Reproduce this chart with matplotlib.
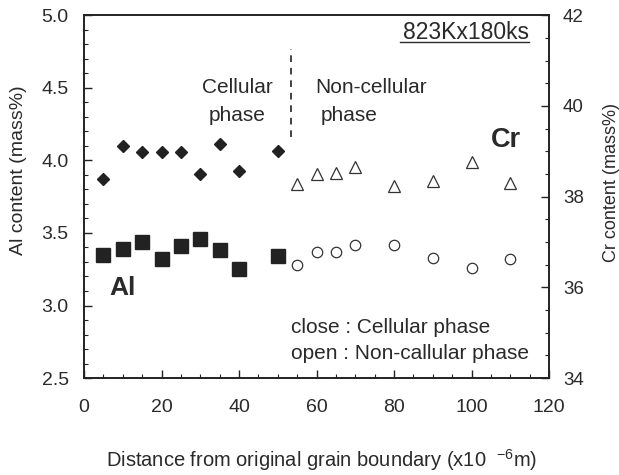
import matplotlib
matplotlib.use("Agg")
import matplotlib.pyplot as plt
from matplotlib.ticker import MultipleLocator

plt.rcParams['font.family'] = ['Liberation Sans', 'DejaVu Sans']
plt.rcParams['mathtext.fontset'] = 'custom'
plt.rcParams['mathtext.rm'] = 'Liberation Sans'
plt.rcParams['mathtext.it'] = 'Liberation Sans'

TXT = '#2a2a2a'

# Distance from original grain boundary (x10^-6 m)
x_cell = [5, 10, 15, 20, 25, 30, 35, 40, 50]
x_noncell = [55, 60, 65, 70, 80, 90, 100, 110]

# Al content (mass%)
al_cell = [3.35, 3.39, 3.44, 3.32, 3.41, 3.46, 3.38, 3.25, 3.34]
al_noncell = [3.28, 3.37, 3.37, 3.42, 3.42, 3.33, 3.26, 3.32]

# Cr content (mass%)
cr_cell = [38.39, 39.11, 38.98, 38.98, 38.98, 38.50, 39.17, 38.57, 39.01]
cr_noncell = [38.27, 38.50, 38.53, 38.66, 38.23, 38.34, 38.76, 38.31]

# cellular / non-cellular boundary marker
boundary_x = 53.3
boundary_span = (4.16, 4.77)

fig = plt.figure(figsize=(6.19, 4.75), dpi=100)
ax = fig.add_axes([0.1357, 0.204, 0.887 - 0.1357, 0.968 - 0.204])
ax2 = ax.twinx()

ax.plot(x_cell, al_cell, linestyle='none', marker='s', ms=9.5,
        color='#222222', mec='#222222', zorder=3)
ax.plot(x_noncell, al_noncell, linestyle='none', marker='o', ms=7.5,
        mfc='white', mec='#333333', mew=0.9, zorder=3)
ax2.plot(x_cell, cr_cell, linestyle='none', marker='D', ms=6.0,
         color='#222222', mec='#222222', zorder=3)
ax2.plot(x_noncell, cr_noncell, linestyle='none', marker='^', ms=8.0,
         mfc='white', mec='#333333', mew=0.9, zorder=3)

ax.plot([boundary_x, boundary_x], boundary_span, color='#222222',
        lw=1.2, linestyle=(0, (4, 3.5)))

ax.set_xlim(0, 120)
ax.set_ylim(2.5, 5.0)
ax2.set_ylim(34, 42)

ax.xaxis.set_major_locator(MultipleLocator(20))
ax.xaxis.set_minor_locator(MultipleLocator(5))
ax.yaxis.set_major_locator(MultipleLocator(0.5))
ax.yaxis.set_minor_locator(MultipleLocator(0.1))
ax2.yaxis.set_major_locator(MultipleLocator(2))
ax2.yaxis.set_minor_locator(MultipleLocator(0.5))
ax.yaxis.set_major_formatter(plt.FuncFormatter(lambda v, p: f"{v:.1f}"))

for a in (ax, ax2):
    for s in a.spines.values():
        s.set_linewidth(1.2)
        s.set_color('#222222')

ax.tick_params(axis='x', which='major', direction='in', length=6, width=1.0,
               labelsize=14, colors='#222222', labelcolor=TXT, top=False,
               pad=15)
ax.tick_params(axis='y', which='major', direction='in', length=6, width=1.0,
               labelsize=14, colors='#222222', labelcolor=TXT, right=False,
               pad=11)
ax.tick_params(axis='both', which='minor', direction='in', length=3, width=0.8,
               colors='#222222', top=False, right=False)
ax2.tick_params(axis='y', which='major', direction='in', length=6, width=1.0,
                labelsize=13.5, colors='#222222', labelcolor=TXT, pad=10)
ax2.tick_params(axis='y', which='minor', direction='in', length=3, width=0.8,
                colors='#222222')

# axis titles
fig.text(19 / 619, 1 - 170 / 475, 'Al content (mass%)', rotation=90,
         ha='center', va='center', fontsize=14, color=TXT)
fig.text(611 / 619, 1 - 182 / 475, 'Cr content (mass%)', rotation=90,
         ha='center', va='center', fontsize=13, color=TXT)
fig.text(322 / 619, 1 - 460 / 475,
         r'Distance from original grain boundary (x10  $^{-6}$m)',
         ha='center', va='center', fontsize=14.5, color=TXT)

# phase annotations
ax.text(39.5, 4.50, 'Cellular', ha='center', va='center', fontsize=15, color=TXT)
ax.text(39.5, 4.31, 'phase', ha='center', va='center', fontsize=15, color=TXT)
ax.text(59.6, 4.50, 'Non-cellular', ha='left', va='center', fontsize=15, color=TXT)
ax.text(61.2, 4.31, 'phase', ha='left', va='center', fontsize=15, color=TXT)

ax.text(114.8, 4.833, '823Kx180ks', ha='right', va='baseline', fontsize=16.5,
        color=TXT)
ax.plot([81.5, 114.8], [4.815, 4.815], color=TXT, lw=1.0)

ax.text(10.0, 3.12, 'Al', ha='center', va='center', fontsize=19,
        fontweight='bold', color=TXT)
ax.text(109.0, 4.14, 'Cr', ha='center', va='center', fontsize=19.5,
        fontweight='bold', color=TXT)

ax.text(53.3, 2.85, 'close : Cellular phase', ha='left', va='center',
        fontsize=15, color=TXT)
ax.text(53.3, 2.67, 'open : Non-callular phase', ha='left', va='center',
        fontsize=15, color=TXT)

fig.savefig('out.png', dpi=100)
